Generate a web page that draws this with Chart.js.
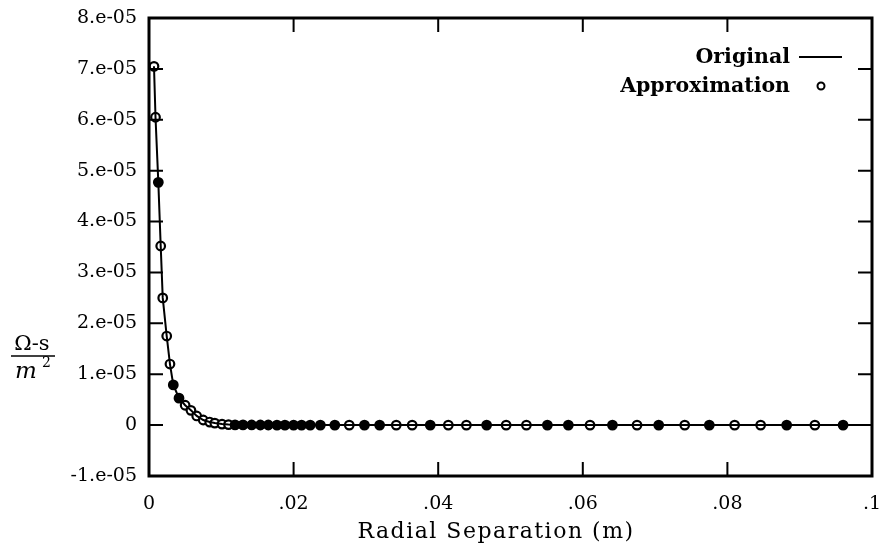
<!DOCTYPE html>
<html>
<head>
<meta charset="utf-8">
<script src="https://cdn.jsdelivr.net/npm/chart.js@4.4.0/dist/chart.umd.min.js"></script>
<style>
  body { margin: 0; background: #fff; }
  #wrap { width: 884px; height: 552px; }
</style>
</head>
<body>
<div id="wrap"><canvas id="chart_main" width="884" height="552"></canvas></div>
<script>
// radial separation (m) of each sample
var separation = [0.00069, 0.0009, 0.00129, 0.00162, 0.0019, 0.00245, 0.0029, 0.00336, 0.00415, 0.005,
    0.0058, 0.0066, 0.0075, 0.0084, 0.0091, 0.0101, 0.011, 0.0119, 0.013, 0.0142,
    0.0154, 0.0165, 0.0177, 0.0188, 0.02, 0.0211, 0.0223, 0.0237, 0.0257, 0.0277,
    0.0298, 0.0319, 0.0342, 0.0364, 0.0389, 0.0414, 0.0439, 0.0467, 0.0494, 0.0522,
    0.0551, 0.058, 0.061, 0.0641, 0.0675, 0.0705, 0.0741, 0.0775, 0.081, 0.0846,
    0.0882, 0.0921, 0.096];
// approximation values (ohm-s / m^2)
var approx = [7.05e-5, 6.05e-5, 4.77e-5, 3.52e-5, 2.5e-5, 1.75e-5, 1.2e-5, 0.79e-5, 0.53e-5, 0.39e-5,
    0.29e-5, 0.18e-5, 0.1e-5, 0.06e-5, 0.04e-5, 0.02e-5, 0.01e-5, 0.005e-5, 0.004e-5, 0.003e-5,
    0.002e-5, 0.002e-5, 0.001e-5, 0.001e-5, 0.001e-5, 0, 0, 0, 0, 0,
    0, 0, 0, 0, 0, 0, 0, 0, 0, 0,
    0, 0, 0, 0, 0, 0, 0, 0, 0, 0,
    0, 0, 0];
// original curve: same samples, carried on to the edge of the axis
var origX = separation.concat([0.1]);
var origY = approx.concat([0]);

var xTicks = [0, 0.02, 0.04, 0.06, 0.08, 0.1];
var yMin = -1e-5, yMax = 8e-5, yStep = 1e-5;
var xTitle = 'Radial Separation (m)';

// the scan shows some circles blotted in, keep that look
var blotted = [2, 7, 8, 17, 18, 19, 20, 21, 22, 23, 24, 25, 26, 27, 28, 30, 31, 34, 37, 40, 41, 43, 45, 47, 50, 52];
var pointFill = separation.map(function(v, i){ return blotted.indexOf(i) >= 0 ? '#000' : '#fff'; });

var SERIF = '"DejaVu Serif", "Liberation Serif", serif';

function toPoints(xs, ys){
    return xs.map(function(v, i){ return {x: v, y: ys[i]}; });
}

var framePlugin = {
    id: 'frame',
    afterDraw: function(chart){
        var ctx = chart.ctx, a = chart.chartArea;
        var xs = chart.scales.x, ys = chart.scales.y;
        ctx.save();
        ctx.strokeStyle = '#000';
        ctx.lineWidth = 2;
        ctx.beginPath();
        xs.ticks.forEach(function(t){
            var px = xs.getPixelForValue(t.value);
            ctx.moveTo(px, a.bottom); ctx.lineTo(px, a.bottom - 14);
            ctx.moveTo(px, a.top); ctx.lineTo(px, a.top + 14);
        });
        ys.ticks.forEach(function(t){
            var py = ys.getPixelForValue(t.value);
            ctx.moveTo(a.left, py); ctx.lineTo(a.left + 14, py);
            ctx.moveTo(a.right, py); ctx.lineTo(a.right - 14, py);
        });
        ctx.stroke();
        ctx.lineWidth = 3;
        ctx.strokeRect(a.left, a.top, a.right - a.left, a.bottom - a.top);

        ctx.fillStyle = '#000';
        ctx.textBaseline = 'alphabetic';

        // x axis title, set a bit wide like the original typeface
        ctx.font = '22px ' + SERIF;
        ctx.letterSpacing = '1.5px';
        ctx.textAlign = 'center';
        ctx.fillText(xTitle, 496, 538);
        ctx.letterSpacing = '0px';

        // y axis label as a fraction
        ctx.font = '21px ' + SERIF;
        ctx.fillText('\u03A9-s', 32, 350);
        ctx.lineWidth = 1.5;
        ctx.beginPath(); ctx.moveTo(11, 356); ctx.lineTo(55, 356); ctx.stroke();
        ctx.font = 'italic 23px ' + SERIF;
        ctx.textAlign = 'left';
        ctx.fillText('m', 15, 378);
        ctx.font = '14px ' + SERIF;
        ctx.fillText('2', 42, 367);

        // legend, text on the left of its sample
        ctx.font = 'bold 20.5px ' + SERIF;
        ctx.textAlign = 'right';
        ctx.fillText('Original', 790, 63);
        ctx.fillText('Approximation', 790, 92);
        ctx.lineWidth = 2;
        ctx.beginPath(); ctx.moveTo(799, 57); ctx.lineTo(842, 57); ctx.stroke();
        ctx.beginPath(); ctx.arc(821, 86, 3.5, 0, Math.PI * 2);
        ctx.fillStyle = '#fff'; ctx.fill(); ctx.stroke();
        ctx.restore();
    }
};

var ctx = document.getElementById('chart_main').getContext('2d');
var chart = new Chart(ctx, {
    type: 'scatter',
    data: {
        datasets: [
            {
                label: 'Original',
                data: toPoints(origX, origY),
                showLine: true,
                borderColor: '#000',
                borderWidth: 2,
                pointRadius: 0,
                tension: 0
            },
            {
                label: 'Approximation',
                data: toPoints(separation, approx),
                showLine: false,
                borderColor: '#000',
                backgroundColor: pointFill,
                pointBackgroundColor: pointFill,
                pointBorderColor: '#000',
                pointBorderWidth: 2.2,
                pointRadius: 4.3
            }
        ]
    },
    options: {
        responsive: false,
        animation: false,
        layout: { padding: { left: 0, right: 12, top: 18, bottom: 0 } },
        plugins: { legend: { display: false }, tooltip: { enabled: false } },
        scales: {
            x: {
                type: 'linear',
                min: 0, max: 0.1,
                afterFit: function(s){ s.height = 76; s.paddingLeft = 0; s.paddingRight = 0; },
                afterBuildTicks: function(s){ s.ticks = xTicks.map(function(v){ return {value: v}; }); },
                grid: { display: false, drawTicks: false },
                border: { display: false },
                ticks: {
                    color: '#000',
                    padding: 17,
                    maxRotation: 0,
                    font: { family: SERIF, size: 19 },
                    callback: function(v){ return v === 0 ? '0' : String(+v.toFixed(2)).replace('0.', '.'); }
                },
                title: { display: false, text: xTitle }
            },
            y: {
                min: yMin, max: yMax,
                afterFit: function(s){ s.width = 149; s.paddingTop = 0; s.paddingBottom = 0; },
                grid: { display: false, drawTicks: false },
                border: { display: false },
                ticks: {
                    color: '#000',
                    stepSize: yStep,
                    padding: 12,
                    font: { family: SERIF, size: 19 },
                    callback: function(v){
                        var n = Math.round(v / yStep);
                        return n === 0 ? '0' : n + '.e-05';
                    }
                }
            }
        }
    },
    plugins: [framePlugin]
});
</script>
</body>
</html>
